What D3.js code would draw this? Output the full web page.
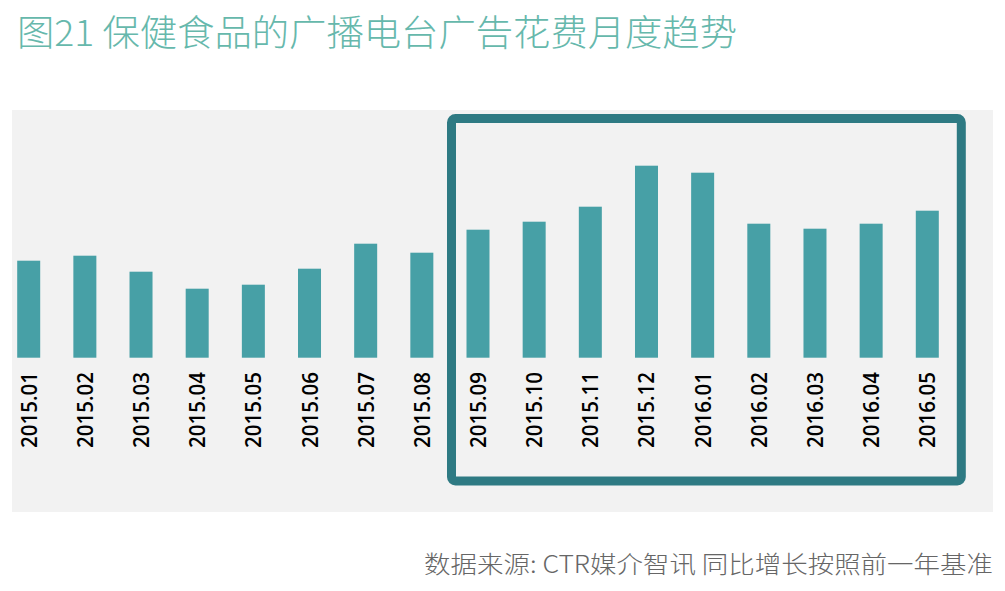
<!DOCTYPE html>
<html lang="zh">
<head>
<meta charset="utf-8">
<title>图21 保健食品的广播电台广告花费月度趋势</title>
<script src="https://cdn.jsdelivr.net/npm/d3@7"></script>
<style>
  html, body { margin: 0; padding: 0; background: #fff; }
  svg { display: block; }
</style>
</head>
<body>
<script>
// months on the axis
var months = ["2015.01", "2015.02", "2015.03", "2015.04", "2015.05", "2015.06",
              "2015.07", "2015.08", "2015.09", "2015.10", "2015.11", "2015.12",
              "2016.01", "2016.02", "2016.03", "2016.04", "2016.05"];
// spend, relative units
var spend = [97, 102, 86, 69, 73, 89, 114, 105, 128, 136, 151, 192, 185, 134, 129, 134, 147];
// highlighted period (first, last)
var highlight = ["2015.09", "2016.05"];

var titleText = "图21 保健食品的广播电台广告花费月度趋势";
var sourceText = "数据来源: CTR媒介智讯 同比增长按照前一年基准";

var w = 1005, h = 591;
var base = 357.7;

var svg = d3.select("body").append("svg")
    .attr("width", w)
    .attr("height", h);

// grey panel
svg.append("rect")
    .attr("x", 12).attr("y", 110)
    .attr("width", 981).attr("height", 402)
    .attr("fill", "#f2f2f2");

var x = d3.scalePoint()
    .domain(months)
    .range([28.7, 927.3]);

var y = d3.scaleLinear()
    .domain([0, 200])
    .range([base, base - 200]);

var barW = 23;

// highlight box
var x0 = x(highlight[0]) - 26.5, x1 = x(highlight[1]) + 34;
svg.append("rect")
    .attr("x", x0).attr("y", 118.5)
    .attr("width", x1 - x0).attr("height", 362.5)
    .attr("rx", 4).attr("ry", 4)
    .attr("fill", "none")
    .attr("stroke", "#2e7a83")
    .attr("stroke-width", 9);

// bars
svg.selectAll("rect.bar")
    .data(spend)
    .enter()
    .append("rect")
    .attr("class", "bar")
    .attr("x", function(d, i) { return x(months[i]) - barW / 2; })
    .attr("y", function(d) { return y(d); })
    .attr("width", barW)
    .attr("height", function(d) { return base - y(d); })
    .attr("fill", "#47a0a6");

// rotated month labels
svg.selectAll("text.month")
    .data(months)
    .enter()
    .append("text")
    .attr("class", "month")
    .attr("transform", function(d) { return "translate(" + (x(d) + 8) + ",372) rotate(-90)"; })
    .attr("text-anchor", "end")
    .attr("font-family", "'Open Sans', sans-serif")
    .attr("font-weight", 600)
    .attr("font-size", 22)
    .attr("textLength", 76)
    .attr("lengthAdjust", "spacingAndGlyphs")
    .attr("fill", "#000")
    .text(function(d) { return d; });

// title
svg.append("text")
    .attr("x", 17).attr("y", 46)
    .attr("font-family", "'Noto Sans CJK SC', sans-serif")
    .attr("font-weight", 300)
    .attr("font-size", 36)
    .attr("textLength", 720)
    .attr("lengthAdjust", "spacingAndGlyphs")
    .attr("fill", "#66b8ac")
    .text(titleText);

// source note
svg.append("text")
    .attr("x", 993).attr("y", 573)
    .attr("text-anchor", "end")
    .attr("font-family", "'Noto Sans CJK SC', sans-serif")
    .attr("font-weight", 300)
    .attr("font-size", 24)
    .attr("textLength", 569)
    .attr("lengthAdjust", "spacingAndGlyphs")
    .attr("fill", "#666")
    .text(sourceText);
</script>
</body>
</html>
